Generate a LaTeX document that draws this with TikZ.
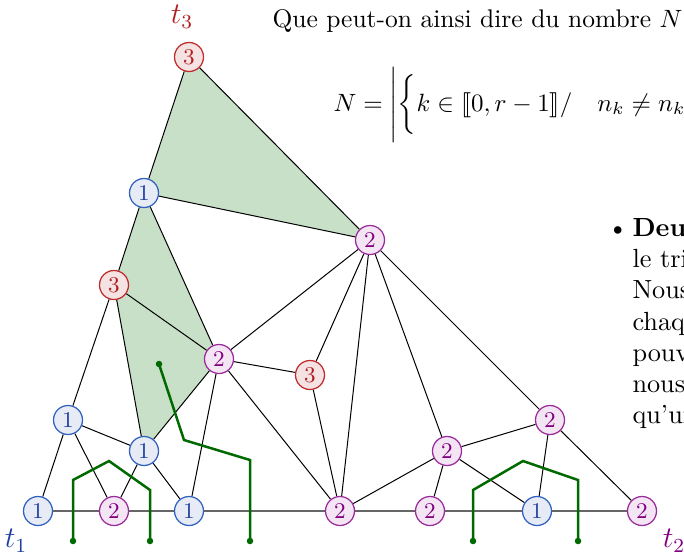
\documentclass[tikz,border=0pt]{standalone}
\usepackage{stmaryrd}
\usetikzlibrary{backgrounds}
\definecolor{bluefill}{HTML}{E6EBF6}
\definecolor{blueline}{HTML}{3060C0}
\definecolor{bluetext}{HTML}{1F3F9F}
\definecolor{purfill}{HTML}{F3E5F3}
\definecolor{purline}{HTML}{9B2A9B}
\definecolor{purtext}{HTML}{800080}
\definecolor{redfill}{HTML}{F5E3E3}
\definecolor{redline}{HTML}{C02A2A}
\definecolor{redtext}{HTML}{B01E1E}
\definecolor{shadegreen}{HTML}{C8E0C8}
\definecolor{dgreen}{HTML}{006A00}
\tikzset{
  vtx/.style={circle,minimum size=11.6pt,inner sep=0pt,line width=0.5pt,font=\small},
  vb/.style={vtx,draw=blueline,fill=bluefill,text=bluetext},
  vp/.style={vtx,draw=purline,fill=purfill,text=purtext},
  vr/.style={vtx,draw=redline,fill=redfill,text=redtext},
  edge/.style={line width=0.4pt,black},
  baseline/.style={line width=0.8pt,black!60},
  gpath/.style={line width=1pt,dgreen},
  gdot/.style={circle,fill=dgreen,inner sep=0pt,minimum size=2.6pt},
  txt/.style={anchor=base west,inner sep=0pt,font=\fontsize{10.5}{12.6}\selectfont}
}
\begin{document}
\begin{tikzpicture}[x=0.4pt,y=-0.4pt]
\useasboundingbox (0,0) rectangle (684,553);
% vertices
\node[vr] (A) at (189,57) {3};
\node[vb] (B) at (144,193) {1};
\node[vp] (C) at (370,240) {2};
\node[vr] (D) at (114,285) {3};
\node[vp] (E) at (219,359) {2};
\node[vr] (F) at (310,375) {3};
\node[vb] (G) at (68,420) {1};
\node[vb] (H) at (144,451) {1};
\node[vp] (I) at (447,451) {2};
\node[vp] (J) at (550,420) {2};
\node[vb] (K) at (38,511) {1};
\node[vp] (L) at (114,511) {2};
\node[vb] (M) at (189,511) {1};
\node[vp] (N) at (340,511) {2};
\node[vp] (O) at (430,511) {2};
\node[vb] (P) at (537,511) {1};
\node[vp] (Q) at (642,511) {2};
% labels
\node[text=redtext,font=\large] (t3) at (182,17) {$t_3$};
\node[text=bluetext,font=\large] (t1) at (16,541) {$t_1$};
\node[text=purtext,font=\large] (t2) at (674,541) {$t_2$};
\begin{pgfonlayer}{background}
\fill[shadegreen] (A.center) -- (B.center) -- (C.center) -- cycle;
\fill[shadegreen] (B.center) -- (D.center) -- (H.center) -- (E.center) -- cycle;
\draw[baseline] (K) -- (L) -- (M) -- (N) -- (O) -- (P) -- (Q);
\draw[edge] (A) -- (B) (A) -- (C) (B) -- (C) (B) -- (D) (B) -- (E)
  (C) -- (E) (C) -- (F) (C) -- (N) (C) -- (I) (C) -- (J)
  (D) -- (E) (D) -- (G) (D) -- (H)
  (E) -- (F) (E) -- (H) (E) -- (M) (E) -- (N) (F) -- (N)
  (G) -- (K) (G) -- (L) (G) -- (H) (H) -- (L) (H) -- (M)
  (I) -- (J) (I) -- (N) (I) -- (O) (I) -- (P) (J) -- (P) (J) -- (Q);
\end{pgfonlayer}
% green cuts
\coordinate (g1a) at (73,541); \coordinate (g1b) at (73,480); \coordinate (g1c) at (109,461);
\coordinate (g1d) at (150,490); \coordinate (g1e) at (150,541);
\coordinate (g2a) at (159,364); \coordinate (g2b) at (184,440); \coordinate (g2c) at (250,460);
\coordinate (g2d) at (250,541);
\coordinate (g3a) at (473,541); \coordinate (g3b) at (473,490); \coordinate (g3c) at (523,461);
\coordinate (g3d) at (578,480); \coordinate (g3e) at (578,541);
\draw[gpath] (g1a) -- (g1b) -- (g1c) -- (g1d) -- (g1e);
\draw[gpath] (g2a) -- (g2b) -- (g2c) -- (g2d);
\draw[gpath] (g3a) -- (g3b) -- (g3c) -- (g3d) -- (g3e);
\foreach \p in {g1a,g1e,g2a,g2d,g3a,g3e} \node[gdot] at (\p) {};
% text
\begin{scope}
\clip (0,0) rectangle (684,553);
\node[txt,font=\fontsize{10.2}{12.2}\selectfont] (q) at (272,27) {Que peut-on ainsi dire du nombre $N$};
\node[txt,font=\normalsize] (f) at (333,111) {$N=\Biggl|\biggl\{k\in\llbracket 0,r-1\rrbracket/\quad n_k\neq n_k$};
\node[txt] (bl) at (607,236) {\textbullet};
\node[txt] (l1) at (632,236) {\textbf{Deux}};
\node[txt] (l2) at (632,267) {le tri};
\node[txt] (l3) at (632,298) {Nous};
\node[txt] (l4) at (632,330) {chaq};
\node[txt] (l5) at (632,361) {pouv};
\node[txt] (l6) at (632,392) {nous};
\node[txt] (l7) at (632,423) {qu'un};
\end{scope}
\end{tikzpicture}
\end{document}
